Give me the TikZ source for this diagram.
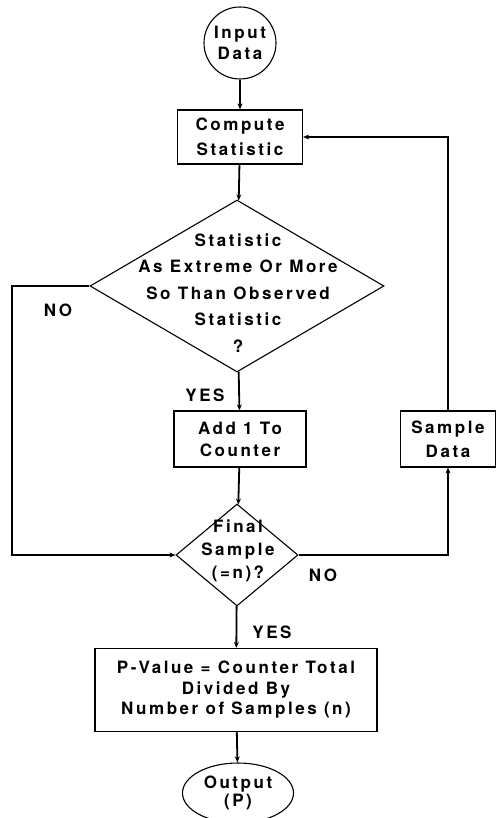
\documentclass[tikz,border=0pt]{standalone}
\usepackage{fontspec}
\setmainfont{TeX Gyre Heros}[LetterSpace=15]
\usetikzlibrary{shapes.geometric,arrows.meta}
\begin{document}
\begin{tikzpicture}[x=1pt,y=-1pt,
  txt/.style={font=\fontsize{17}{#1}\selectfont\bfseries, align=center, inner sep=0pt},
  txt/.default=24,
  box/.style={draw, rectangle, line width=1.2pt, inner sep=0pt},
  terminal/.style={draw, line width=1.1pt, inner sep=0pt},
  decision/.style={draw, diamond, line width=1.1pt, inner sep=0pt},
  flow/.style={line width=1.8pt, -{Stealth[length=6pt,width=5pt]}},
  tag/.style={font=\fontsize{17}{20}\selectfont\bfseries, inner sep=0pt}]
\useasboundingbox (0,0) rectangle (496,818);

% start terminal
\node[terminal, circle, minimum size=72pt, txt=21] (inp) at (240,43) {Input\\Data};

% process boxes
\node[box, minimum width=125pt, minimum height=54pt, txt=25] (comp) at (240,137) {Compute\\Statistic};
\node[box, minimum width=132pt, minimum height=56pt, txt=22] (add) at (240,439) {Add 1 To\\Counter};
\node[box, minimum width=95pt, minimum height=56pt, txt=24] (samp) at (448,439) {Sample\\Data};
\node[box, minimum width=282pt, minimum height=83pt, txt=20.5] (pval) at (236,690)
  {P-Value = Counter Total\\Divided By\\Number of Samples (n)};

% decisions: outline and wording as separate nodes
\node[decision, minimum width=294pt, minimum height=172pt] (ext) at (237,286) {};
\node[txt=26.5] (extq) at (238,293) {Statistic\\As Extreme Or More\\So Than Observed\\Statistic\\?};
\node[decision, minimum width=122pt, minimum height=102pt] (fin) at (237,555) {};
\node[txt=23.3] (finq) at (238,551) {Final\\Sample\\(=n)?};

% end terminal
\node[terminal, ellipse, minimum width=111pt, minimum height=60pt, txt=18] (outp) at (238,793) {Output\\(P)};

% branch labels
\node[tag] (noA) at (58,310) {NO};
\node[tag] (yesA) at (205,395) {YES};
\node[tag] (noB) at (323,575) {NO};
\node[tag] (yesB) at (272,632) {YES};

% loop corners
\coordinate (loopL) at (12,420);

% connectors
\draw[flow] (inp) -- (comp);
\draw[flow] (comp) -- (ext);
\draw[flow] (ext) -- (add);
\draw[flow] (add) -- (fin);
\draw[flow] (fin) -- (pval);
\draw[flow] (pval) -- (outp);
\draw[flow] (ext.west) -| (loopL) |- (fin.west);
\draw[flow] (fin.east) -| (samp.south);
\draw[flow] (samp.north) |- (comp.east);
\end{tikzpicture}
\end{document}
